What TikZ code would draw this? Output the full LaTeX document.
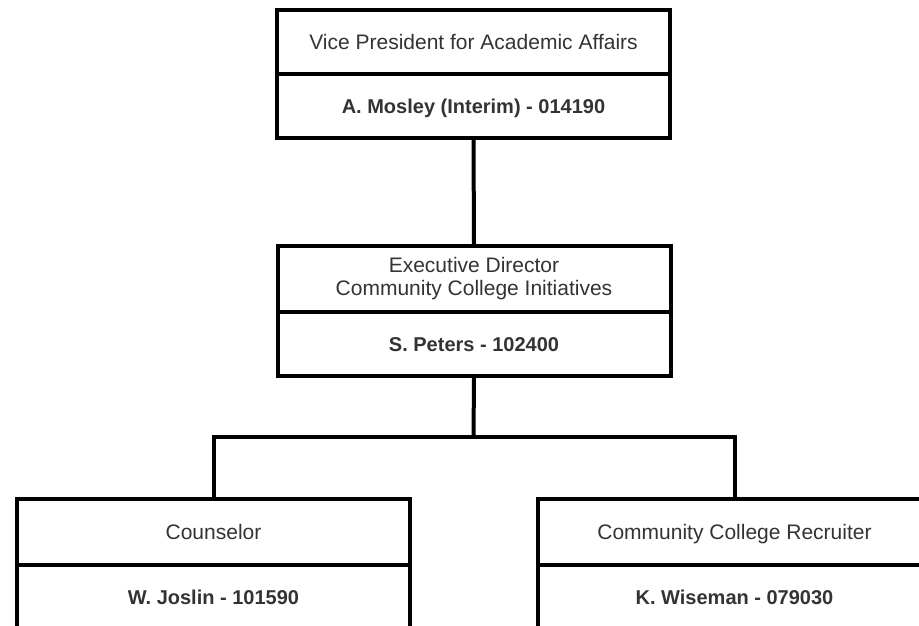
\documentclass[tikz,border=0pt]{standalone}
\usepackage{fontspec}
\setmainfont{Liberation Sans}
\definecolor{txt}{HTML}{333333}
\begin{document}
\begin{tikzpicture}[x=1pt,y=-1pt,
  cell/.style={draw=black, line width=4pt, rectangle, minimum width=393pt,
    minimum height=64pt, inner sep=0pt, text=txt, align=center,
    font=\fontsize{21}{23}\selectfont},
  one/.style={text height=15pt, text depth=0pt},
  boldcell/.style={cell, one, font=\fontsize{20}{23}\selectfont\bfseries},
  link/.style={draw=black, line width=4pt}]
\clip (0,0) rectangle (919,626);
% top
\node[cell, one] (t1) at (473.5,42) {Vice President for Academic Affairs};
\node[boldcell] (t2) at (473.5,106) {A. Mosley (Interim) - 014190};
% middle
\node[cell, minimum height=66pt] (m1) at (474,279) {Executive Director\\Community College Initiatives};
\node[boldcell] (m2) at (474,344) {S. Peters - 102400};
% bottom left
\node[cell, one, minimum height=66pt] (l1) at (213.5,532) {Counselor};
\node[boldcell] (l2) at (213.5,597) {W. Joslin - 101590};
% bottom right
\node[cell, one, minimum height=66pt] (r1) at (734.5,532) {Community College Recruiter};
\node[boldcell] (r2) at (734.5,597) {K. Wiseman - 079030};
% connectors
\coordinate (bus) at (473.5,437);
\draw[link] (t2.south) -- (m1.north);
\draw[link] (m2.south) -- (bus);
\draw[link] (l1.north) |- (bus) -| (r1.north);
\end{tikzpicture}
\end{document}
